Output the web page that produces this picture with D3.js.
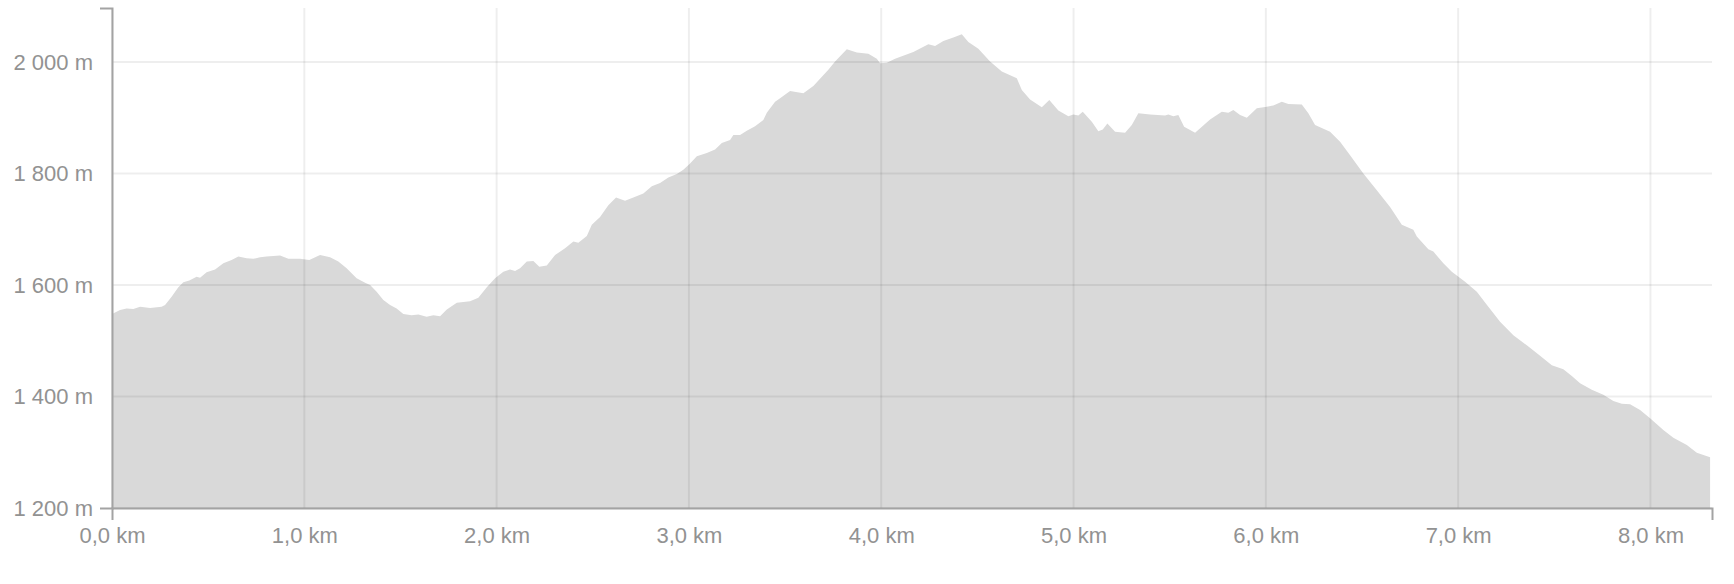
<!DOCTYPE html>
<html>
<head>
<meta charset="utf-8">
<script src="https://cdn.jsdelivr.net/npm/d3@7/dist/d3.min.js"></script>
<style>
  html, body { margin: 0; padding: 0; background: #fff; }
  svg { display: block; }
  .tick text { font-family: "Liberation Sans", Arial, Helvetica, sans-serif; }
</style>
</head>
<body>
<svg id="chart" width="1734" height="584"></svg>
<script>
// Distance along route (km)
const distanceKm = [
  0, 0.042, 0.076, 0.111, 0.146, 0.198, 0.258, 0.276, 0.310, 0.345, 0.371, 0.402, 0.440, 0.458, 0.492,
  0.536, 0.579, 0.622, 0.657, 0.700, 0.735, 0.770, 0.804, 0.874, 0.917, 0.978, 1.026, 1.082, 1.134,
  1.177, 1.220, 1.272, 1.316, 1.342, 1.376, 1.411, 1.446, 1.480, 1.515, 1.558, 1.593, 1.636, 1.671,
  1.706, 1.741, 1.793, 1.862, 1.905, 1.949, 1.992, 2.035, 2.070, 2.096, 2.122, 2.157, 2.191, 2.222,
  2.261, 2.304, 2.356, 2.399, 2.425, 2.469, 2.495, 2.538, 2.581, 2.621, 2.668, 2.711, 2.763, 2.807,
  2.850, 2.893, 2.937, 2.971, 3.006, 3.041, 3.093, 3.136, 3.171, 3.214, 3.231, 3.266, 3.301, 3.344,
  3.387, 3.405, 3.448, 3.474, 3.526, 3.595, 3.647, 3.725, 3.760, 3.821, 3.873, 3.933, 3.977, 3.994,
  4.029, 4.072, 4.167, 4.245, 4.280, 4.323, 4.375, 4.419, 4.453, 4.505, 4.566, 4.627, 4.705, 4.731,
  4.774, 4.835, 4.874, 4.921, 4.973, 4.999, 5.025, 5.048, 5.095, 5.129, 5.152, 5.176, 5.216, 5.268,
  5.303, 5.337, 5.398, 5.476, 5.493, 5.519, 5.545, 5.575, 5.632, 5.710, 5.771, 5.805, 5.831, 5.866,
  5.901, 5.953, 6.005, 6.039, 6.083, 6.117, 6.187, 6.221, 6.256, 6.334, 6.386, 6.438, 6.507, 6.577,
  6.646, 6.707, 6.767, 6.785, 6.845, 6.871, 6.923, 6.967, 7.036, 7.097, 7.157, 7.218, 7.287, 7.357,
  7.426, 7.487, 7.547, 7.591, 7.634, 7.695, 7.755, 7.807, 7.851, 7.894, 7.946, 7.998, 8.067, 8.119,
  8.189, 8.241, 8.310
];
// Elevation (m)
const elevationM = [
  1548, 1555, 1558, 1557, 1561, 1559, 1561, 1564, 1579, 1596, 1605, 1608, 1615, 1613, 1623,
  1628, 1639, 1645, 1651, 1648, 1647, 1650, 1651, 1653, 1647, 1647, 1645, 1654, 1650,
  1642, 1630, 1612, 1604, 1600, 1588, 1573, 1564, 1558, 1548, 1546, 1547, 1543, 1546,
  1544, 1556, 1568, 1571, 1577, 1596, 1612, 1624, 1628, 1625, 1630, 1642, 1643, 1633,
  1635, 1654, 1666, 1678, 1676, 1688, 1708, 1722, 1743, 1757, 1751, 1757, 1764, 1777,
  1783, 1793, 1799, 1807, 1818, 1831, 1837, 1843, 1855, 1860, 1869, 1869, 1877, 1885,
  1896, 1909, 1929, 1935, 1948, 1944, 1957, 1986, 2001, 2023, 2017, 2015, 2006, 1998,
  1999, 2006, 2018, 2032, 2029, 2038, 2044, 2050, 2036, 2024, 2001, 1983, 1971, 1950,
  1933, 1919, 1932, 1913, 1903, 1906, 1904, 1911, 1893, 1876, 1879, 1890, 1875, 1873,
  1887, 1908, 1906, 1904, 1906, 1903, 1905, 1884, 1873, 1897, 1911, 1909, 1914, 1905,
  1900, 1917, 1920, 1922, 1929, 1925, 1924, 1908, 1887, 1875, 1857, 1833, 1800, 1770,
  1740, 1708, 1699, 1687, 1664, 1660, 1639, 1624, 1606, 1588, 1561, 1534, 1510, 1492,
  1473, 1456, 1449, 1437, 1424, 1412, 1403, 1392, 1387, 1386, 1376, 1361, 1340, 1326,
  1313, 1299, 1291
];
const xTicks = [0, 1, 2, 3, 4, 5, 6, 7, 8];
const yTicks = [1200, 1400, 1600, 1800, 2000];
const xDomain = [0, 8.32];
const yDomain = [1200, 2097];

const locale = d3.formatLocale({ decimal: ",", thousands: "\u00a0", grouping: [3], currency: ["", ""] });
const fmtKm = d => locale.format(".1f")(d) + " km";
const fmtM = d => locale.format(",d")(d) + " m";

const data = distanceKm.map((d, i) => ({ d, e: elevationM[i] }));

const svg = d3.select("#chart");
const margin = { left: 112, right: 22, top: 8, bottom: 76 };
const W = 1734, H = 584;

const x = d3.scaleLinear().domain(xDomain).range([margin.left, W - margin.right]);
const y = d3.scaleLinear().domain(yDomain).range([H - margin.bottom, margin.top]);

// area
svg.append("path")
  .datum(data)
  .attr("fill", "#d9d9d9")
  .attr("d", d3.area().x(p => x(p.d)).y0(y(yDomain[0])).y1(p => y(p.e)));

// grid
const grid = svg.append("g").attr("stroke", "rgba(0,0,0,0.068)").attr("stroke-width", 2);
grid.selectAll("line.v").data(xTicks).join("line")
  .attr("x1", d => x(d)).attr("x2", d => x(d))
  .attr("y1", y.range()[1]).attr("y2", y.range()[0]);
grid.selectAll("line.h").data(yTicks).join("line")
  .attr("y1", d => y(d)).attr("y2", d => y(d))
  .attr("x1", x.range()[0]).attr("x2", x.range()[1]);

// axes
const xAxis = d3.axisBottom(x).tickValues(xTicks).tickFormat(fmtKm)
  .tickSizeInner(0).tickSizeOuter(12).tickPadding(19);
const yAxis = d3.axisLeft(y).tickValues(yTicks).tickFormat(fmtM)
  .tickSizeInner(0).tickSizeOuter(12).tickPadding(19);

const gx = svg.append("g").attr("transform", `translate(0,${y(yDomain[0])})`).call(xAxis);
const gy = svg.append("g").attr("transform", `translate(${x(xDomain[0])},0)`).call(yAxis);

[gx, gy].forEach(g => {
  g.select(".domain").attr("stroke", "#a3a3a3").attr("stroke-width", 2);
  g.selectAll(".tick line").remove();
  g.selectAll(".tick text").attr("fill", "#929292").attr("font-size", 22);
});
</script>
</body>
</html>
